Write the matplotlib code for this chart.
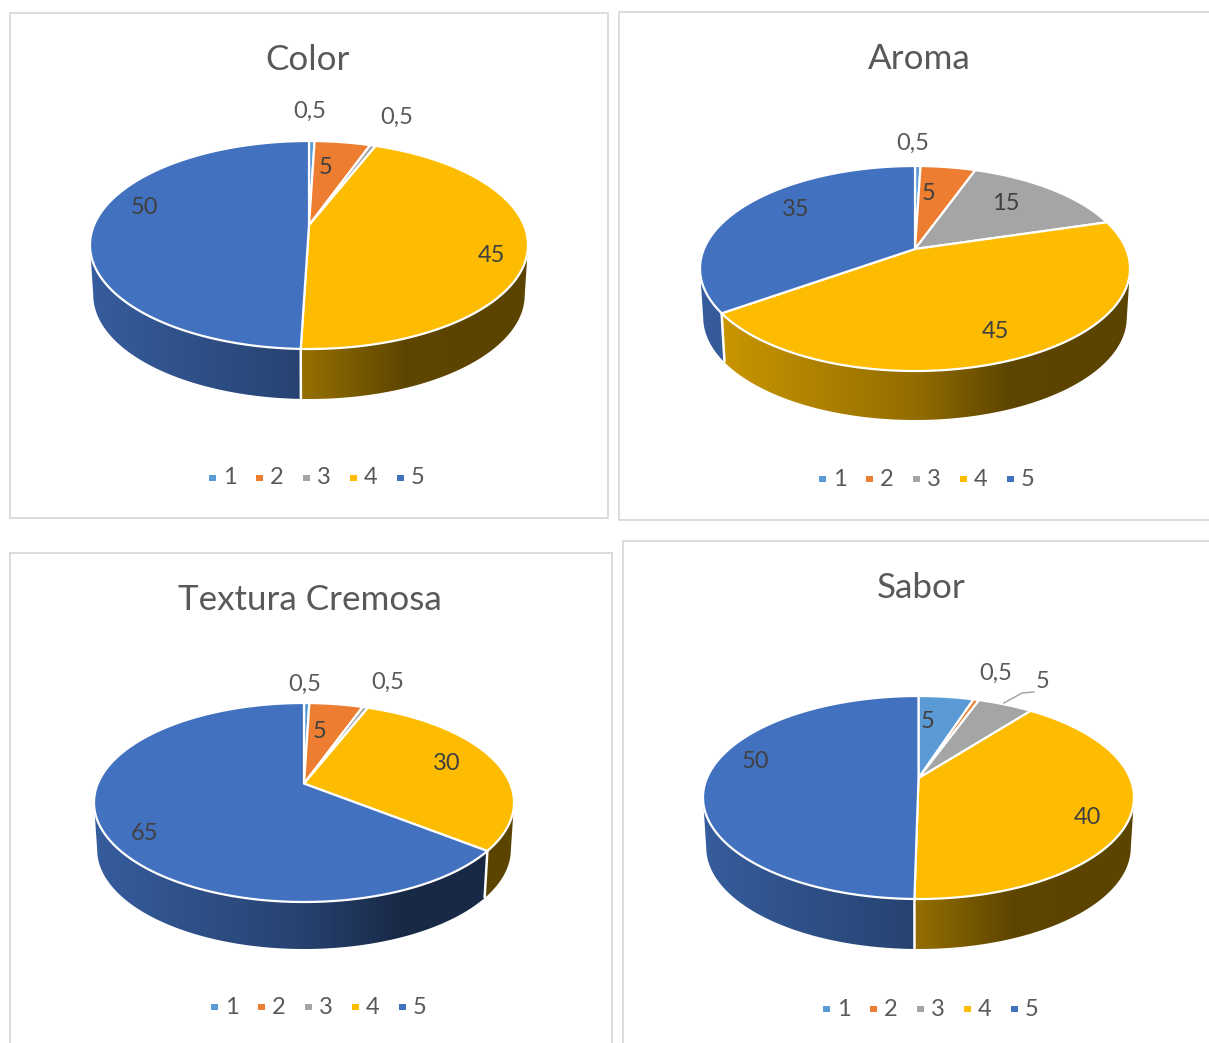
import numpy as np
import matplotlib
matplotlib.use("Agg")
import matplotlib.pyplot as plt
from matplotlib.patches import Rectangle, Polygon

plt.rcParams['font.family'] = ['Lato', 'DejaVu Sans']

titles = ['Color', 'Aroma', 'Textura Cremosa', 'Sabor']
categories = ['1', '2', '3', '4', '5']
color_vals = [0.5, 5, 0.5, 45, 50]
aroma_vals = [0.5, 5, 15, 45, 35]
textura_vals = [0.5, 5, 0.5, 30, 65]
sabor_vals = [5, 0.5, 5, 40, 50]
all_vals = [color_vals, aroma_vals, textura_vals, sabor_vals]
colors = ['#5B9BD5', '#ED7D31', '#A5A5A5', '#FDBC00', '#4271C0']

# panel layout in pixels: box, pie centre / radii, depth, title x/y, legend y, legend x
panels = [
    dict(box=(10, 13, 608, 518), c=(309, 245), r=(219, 104), d=50, tx=308, ty=60, ly=478, lx=212,
         lab=[(310, 111), (326, 168), (397, 117), (491, 256), (144, 208)]),
    dict(box=(619, 12, 1215, 520), c=(915, 268.5), r=(215, 102.5), d=49, tx=919, ty=59, ly=479, lx=822,
         lab=[(913, 143), (929, 193), (1006, 203), (995, 332), (796, 209)]),
    dict(box=(10, 553, 612, 1050), c=(304, 802.5), r=(210, 99.5), d=47, tx=310, ty=600, ly=1007, lx=214,
         lab=[(305, 684), (320, 732), (388, 682), (447, 763), (144, 833)]),
    dict(box=(623, 541, 1215, 1050), c=(918.5, 797.5), r=(215.5, 101.5), d=50, tx=921, ty=588, ly=1009, lx=826,
         lab=[(928, 722), (996, 673), (1043, 682), (1087, 818), (755, 762)]),
]
persp = 0.19
taper = 0.985
shade_t = [0, 0.5, 0.72, 1]
shade_v = [0.82, 0.58, 0.37, 0.36]

fig = plt.figure(figsize=(12.09, 10.43), dpi=100)
ax = fig.add_axes([0, 0, 1, 1])
ax.axis('off')


def project(theta, p):
    # clockwise from 12 o'clock, circle seen in perspective
    u, v = np.sin(theta), np.cos(theta)
    den = 1 + persp * v
    x = p['c'][0] + p['r'][0] * u * np.sqrt(1 - persp ** 2) / den
    y = p['c'][1] - p['r'][1] * (v + persp) / den
    return x, y


for title, vals, p in zip(titles, all_vals, panels):
    x0, y0, x1, y1 = p['box']
    ax.add_patch(Rectangle((x0, y0), x1 - x0, y1 - y0, fc='white', ec='#d9d9d9', lw=1.3, zorder=0))

    edges = np.concatenate([[0], np.cumsum(vals)]) / np.sum(vals) * 2 * np.pi
    cx, cy = p['c']
    rx, ry = p['r']
    apex = (cx, cy - ry * persp)

    # side wall, shaded by position across the pie
    ramp = np.linspace(0, 1, 300)
    shade = np.interp(ramp, shade_t, shade_v)
    for a, b, col in zip(edges[:-1], edges[1:], colors):
        th = np.linspace(a, b, max(int((b - a) * 120), 3))
        xs, ys = project(th, p)
        keep = ys >= cy
        if keep.sum() < 2:
            continue
        xt, yt = xs[keep], ys[keep]
        xb = cx + (xt - cx) * taper
        yb = yt + p['d']
        poly = Polygon(np.c_[np.r_[xt, xb[::-1]], np.r_[yt, yb[::-1]]], fc='none', ec='none')
        ax.add_patch(poly)
        base = np.array(matplotlib.colors.to_rgb(col))
        img = shade[None, :, None] * base[None, None, :]
        im = ax.imshow(img, extent=(cx - rx, cx + rx, cy + ry + p['d'] + 5, cy - ry),
                       aspect='auto', interpolation='bilinear', zorder=0.5)
        im.set_clip_path(poly)

    # white seams on the wall, where a slice edge faces the viewer
    for e in edges:
        xe, ye = project(e, p)
        if ye > cy:
            ax.plot([xe, cx + (xe - cx) * taper], [ye, ye + p['d']], color='white', lw=1.8,
                    solid_capstyle='butt', zorder=0.7)

    # top face
    for a, b, col in zip(edges[:-1], edges[1:], colors):
        th = np.linspace(a, b, max(int((b - a) * 120), 2))
        xs, ys = project(th, p)
        ax.fill(np.r_[apex[0], xs], np.r_[apex[1], ys], fc=col, ec='white', lw=1.6, joinstyle='round',
                zorder=1)

    ax.text(p['tx'], p['ty'], title, ha='center', va='center', fontsize=25.2, color='#595959')

    for v, (lx, ly) in zip(vals, p['lab']):
        txt = str(v).replace('.', ',')
        inside = txt != '0,5' and ly > cy - ry
        ax.text(lx, ly, txt, ha='center', va='center', fontsize=17,
                color='#404040' if inside else '#595959')

    # legend
    for i, (cat, col) in enumerate(zip(categories, colors)):
        mx = p['lx'] + i * 47
        ax.add_patch(Rectangle((mx - 3.5, p['ly'] - 3), 7, 6, fc=col, ec='none'))
        ax.text(mx + 17.5, p['ly'], cat, ha='center', va='center', fontsize=17, color='#595959')

# leader line for the small slice in Sabor
ax.plot([1004, 1022, 1034], [703, 693, 692], color='#a6a6a6', lw=1.1)

ax.set_xlim(0, 1209)
ax.set_ylim(1043, 0)
fig.savefig('out.png', dpi=100)
